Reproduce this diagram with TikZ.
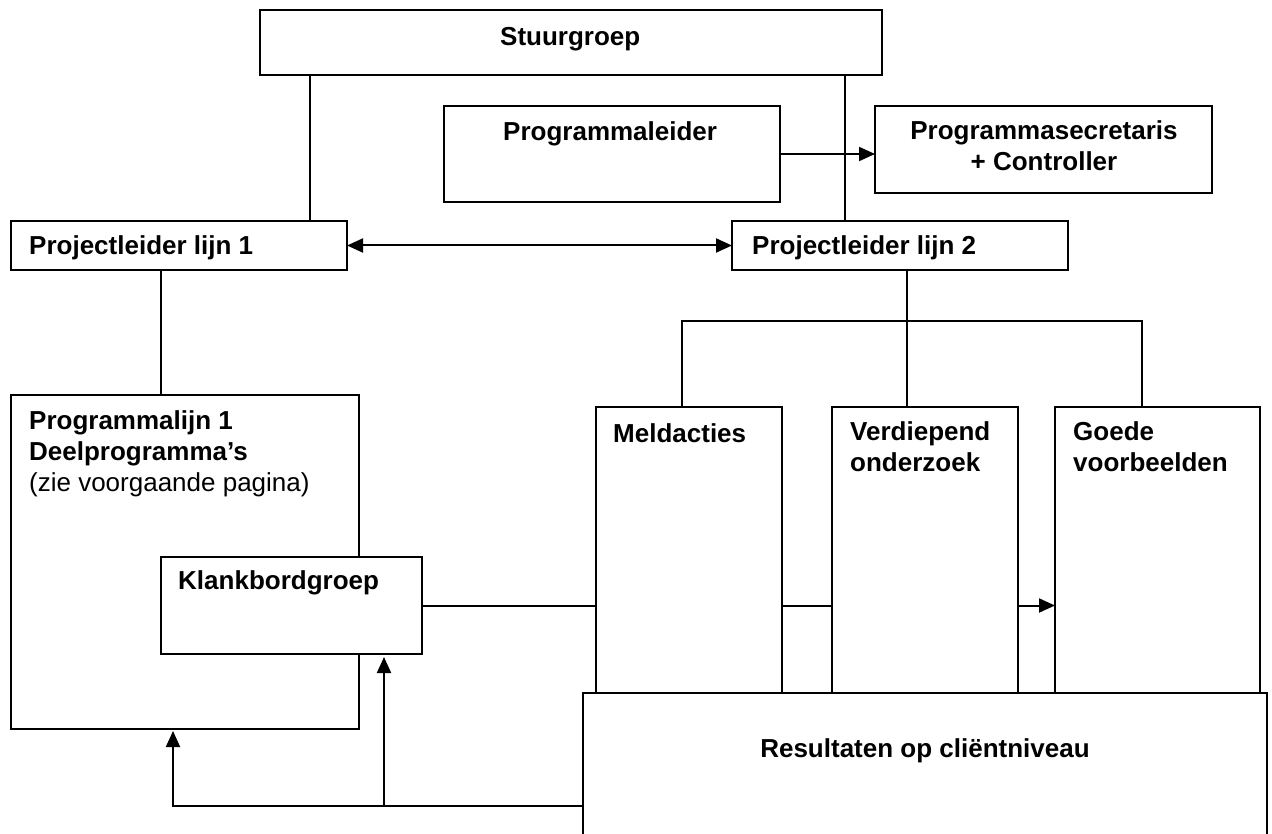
\documentclass[tikz,border=0pt]{standalone}
\usepackage{fontspec}
\setmainfont{Liberation Sans}
\usetikzlibrary{arrows.meta}
\begin{document}
\begin{tikzpicture}[x=1pt,y=-1pt,
  box/.style={draw, line width=1.3pt, fill=white, inner sep=0pt, outer sep=0pt, anchor=north west},
  lbl/.style={anchor=base west, inner sep=0pt, font=\fontsize{26}{31}\selectfont\bfseries},
  thinline/.style={line width=1.3pt},
  conn/.style={line width=2pt},
  tipend/.style={-{Triangle[length=16pt,width=14pt]}},
  tipboth/.style={{Triangle[length=16pt,width=14pt]}-{Triangle[length=16pt,width=14pt]}}
]
\useasboundingbox (0,0) rectangle (1272,834);

% boxes
\node[box, minimum width=622pt, minimum height=65pt] (stuur) at (260,10) {};
\node[box, minimum width=336pt, minimum height=96pt] (progl) at (444,106) {};
\node[box, minimum width=337pt, minimum height=87pt] (progs) at (875,106) {};
\node[box, minimum width=336pt, minimum height=49pt] (pl1) at (11,221) {};
\node[box, minimum width=336pt, minimum height=49pt] (pl2) at (732,221) {};
\node[box, minimum width=348pt, minimum height=334pt] (proglijn) at (11,395) {};
\node[box, minimum width=261pt, minimum height=97pt] (klank) at (161,557) {};
\node[box, minimum width=186pt, minimum height=300pt] (meld) at (596,407) {};
\node[box, minimum width=186pt, minimum height=300pt] (verd) at (832,407) {};
\node[box, minimum width=205pt, minimum height=300pt] (goede) at (1055,407) {};
\node[box, minimum width=684pt, minimum height=160pt] (res) at (583,693) {};

% connectors
\draw[thinline] (310,0 |- stuur.south) -- (310,0 |- pl1.north);
\draw[thinline] (845,0 |- stuur.south) -- (845,0 |- pl2.north);
\draw[conn,tipend] (progl.east) -- (progl.east -| progs.west);
\draw[conn,tipboth] (pl1.east) -- (pl2.west);
\draw[thinline] (161,0 |- pl1.south) -- (161,0 |- proglijn.north);
\coordinate (split) at (907,321);
\draw[thinline] (907,0 |- pl2.south) -- (split);
\draw[thinline] (682,0 |- meld.north) |- (split) -| (1142,0 |- goede.north);
\draw[thinline] (split) -- (907,0 |- verd.north);
\draw[conn] (klank.east) -- (klank.east -| meld.west);
\draw[conn] (meld.east |- klank.east) -- (verd.west |- klank.east);
\draw[conn,tipend] (verd.east |- klank.east) -- (goede.west |- klank.east);
\coordinate (fbsplit) at (384,806);
\draw[conn,tipend,shorten >=2pt] (res.west |- fbsplit) -| (173,0 |- proglijn.south);
\draw[conn,tipend,shorten >=3pt] (fbsplit) -- (fbsplit |- klank.south);

% texts (multi-line nodes: base = baseline of last line)
\node[lbl] (tstuur) at (500,46) {Stuurgroep};
\node[lbl] (tprogl) at (503,141) {Programmaleider};
\node[lbl, anchor=base, align=center] (tprogs) at (1044,171) {Programmasecretaris\\+ Controller};
\node[lbl] (tpl1) at (29,255) {Projectleider lijn 1};
\node[lbl] (tpl2) at (752,255) {Projectleider lijn 2};
\node[lbl, align=left] (tproglijn) at (29,491) {Programmalijn 1\\Deelprogramma’s\\{\mdseries (zie voorgaande pagina)}};
\node[lbl] (tklank) at (178,589) {Klankbordgroep};
\node[lbl] (tmeld) at (613,442) {Meldacties};
\node[lbl, align=left] (tverd) at (850,471) {Verdiepend\\onderzoek};
\node[lbl, align=left] (tgoede) at (1073,471) {Goede\\voorbeelden};
\node[lbl, anchor=base] (tres) at (925,757) {Resultaten op cliëntniveau};
\end{tikzpicture}
\end{document}
